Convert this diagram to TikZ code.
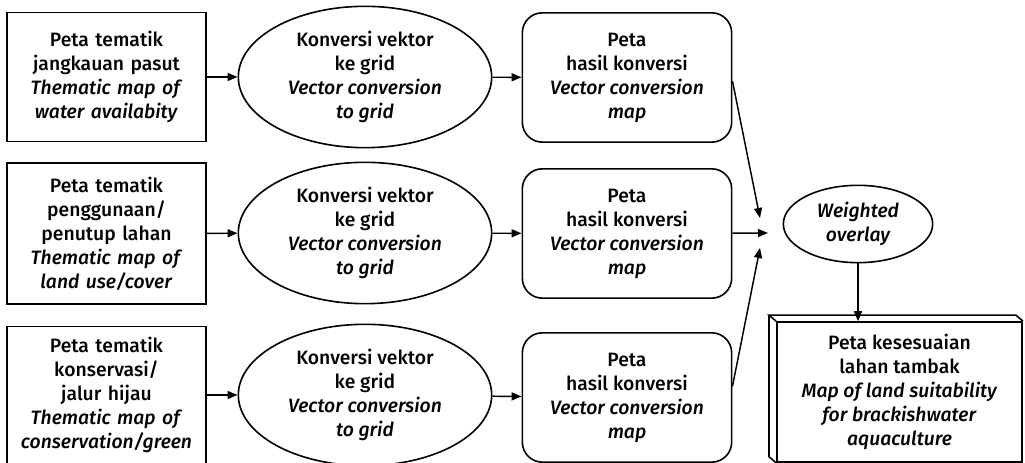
\documentclass[tikz,border=0pt]{standalone}
\usepackage{fontspec}
\setmainfont{Fira Sans}[UprightFont=* Medium, ItalicFont=* Medium Italic]
\usetikzlibrary{arrows.meta, positioning, shapes.geometric, calc}

\tikzset{
  mapbox/.style={draw, line width=1.2pt, rectangle, align=center, text width=142pt, minimum width=149pt},
  convell/.style={draw, line width=1.2pt, ellipse, align=center, minimum width=190pt, minimum height=106pt, inner sep=0pt},
  resultbox/.style={draw, line width=1.2pt, rectangle, rounded corners=15pt, align=center, minimum width=157pt, minimum height=97pt},
  overlayell/.style={draw, line width=1.2pt, ellipse, align=center, minimum width=112pt, minimum height=58pt, inner sep=0pt, font=\fontsize{14.5}{18}\selectfont\itshape},
  finalbox/.style={draw, line width=1.2pt, rectangle, align=center, minimum width=184pt, minimum height=105pt},
  flowarrow/.style={line width=1.1pt, -{Triangle[length=7.5pt,width=6pt]}}
}

\begin{document}
\begin{tikzpicture}[x=0.75pt, y=0.75pt, font=\fontsize{14.5}{18}\selectfont]
  \useasboundingbox (0,0) rectangle (1025,463);

  % input maps
  \node[mapbox, minimum height=97pt] (tm1) at (106.5,386) {Peta tematik\\jangkauan pasut\\\textit{Thematic map of}\\\textit{water availabity}};
  \node[mapbox, minimum height=106pt] (tm2) at (106.5,229.5) {Peta tematik\\penggunaan/\\penutup lahan\\\textit{Thematic map of}\\\textit{land use/cover}};
  \node[mapbox, minimum height=103pt] (tm3) at (106.5,68) {Peta tematik\\konservasi/\\jalur hijau\\\textit{Thematic map of}\\\textit{conservation/green}};

  % vector to grid
  \node[convell] (cv1) at (365,386) {Konversi vektor\\ke grid\\\textit{Vector conversion}\\\textit{to grid}};
  \node[convell] (cv2) at (365,230) {Konversi vektor\\ke grid\\\textit{Vector conversion}\\\textit{to grid}};
  \node[convell] (cv3) at (365,68) {Konversi vektor\\ke grid\\\textit{Vector conversion}\\\textit{to grid}};

  % converted maps
  \node[resultbox] (hk1) at (627,385.5) {Peta\\hasil konversi\\\textit{Vector conversion}\\\textit{map}};
  \node[resultbox] (hk2) at (627,229.5) {Peta\\hasil konversi\\\textit{Vector conversion}\\\textit{map}};
  \node[resultbox] (hk3) at (627,65.5) {Peta\\hasil konversi\\\textit{Vector conversion}\\\textit{map}};

  % overlay and result
  \node[overlayell] (wo) at (858,239) {Weighted\\overlay};
  \node[finalbox] (lt) at (899.5,71) {Peta kesesuaian\\lahan tambak\\\textit{Map of land suitability}\\\textit{for brackishwater}\\\textit{aquaculture}};
  \draw[line width=1.2pt] (lt.north west) -- ++(-7,6) coordinate (bk) -- ($(lt.north east)+(-7,6)$) -- (lt.north east);
  \draw[line width=1.2pt] (bk) -- ($(lt.south west)+(-7,6)$) -- (lt.south west);

  % free ends of the merging arrows
  \coordinate (in1) at (760,245);
  \coordinate (in2) at (768,230);
  \coordinate (in3) at (760,215);

  \foreach \i in {1,2,3} {
    \draw[flowarrow] (tm\i) -- (cv\i);
    \draw[flowarrow] (cv\i) -- (hk\i);
  }
  \draw[flowarrow] (hk1.-2) -- (in1);
  \draw[flowarrow] (hk2) -- (in2);
  \draw[flowarrow] (hk3.6) -- (in3);
  \draw[flowarrow] (wo.south) -- (wo.south |- lt.north);
\end{tikzpicture}
\end{document}
